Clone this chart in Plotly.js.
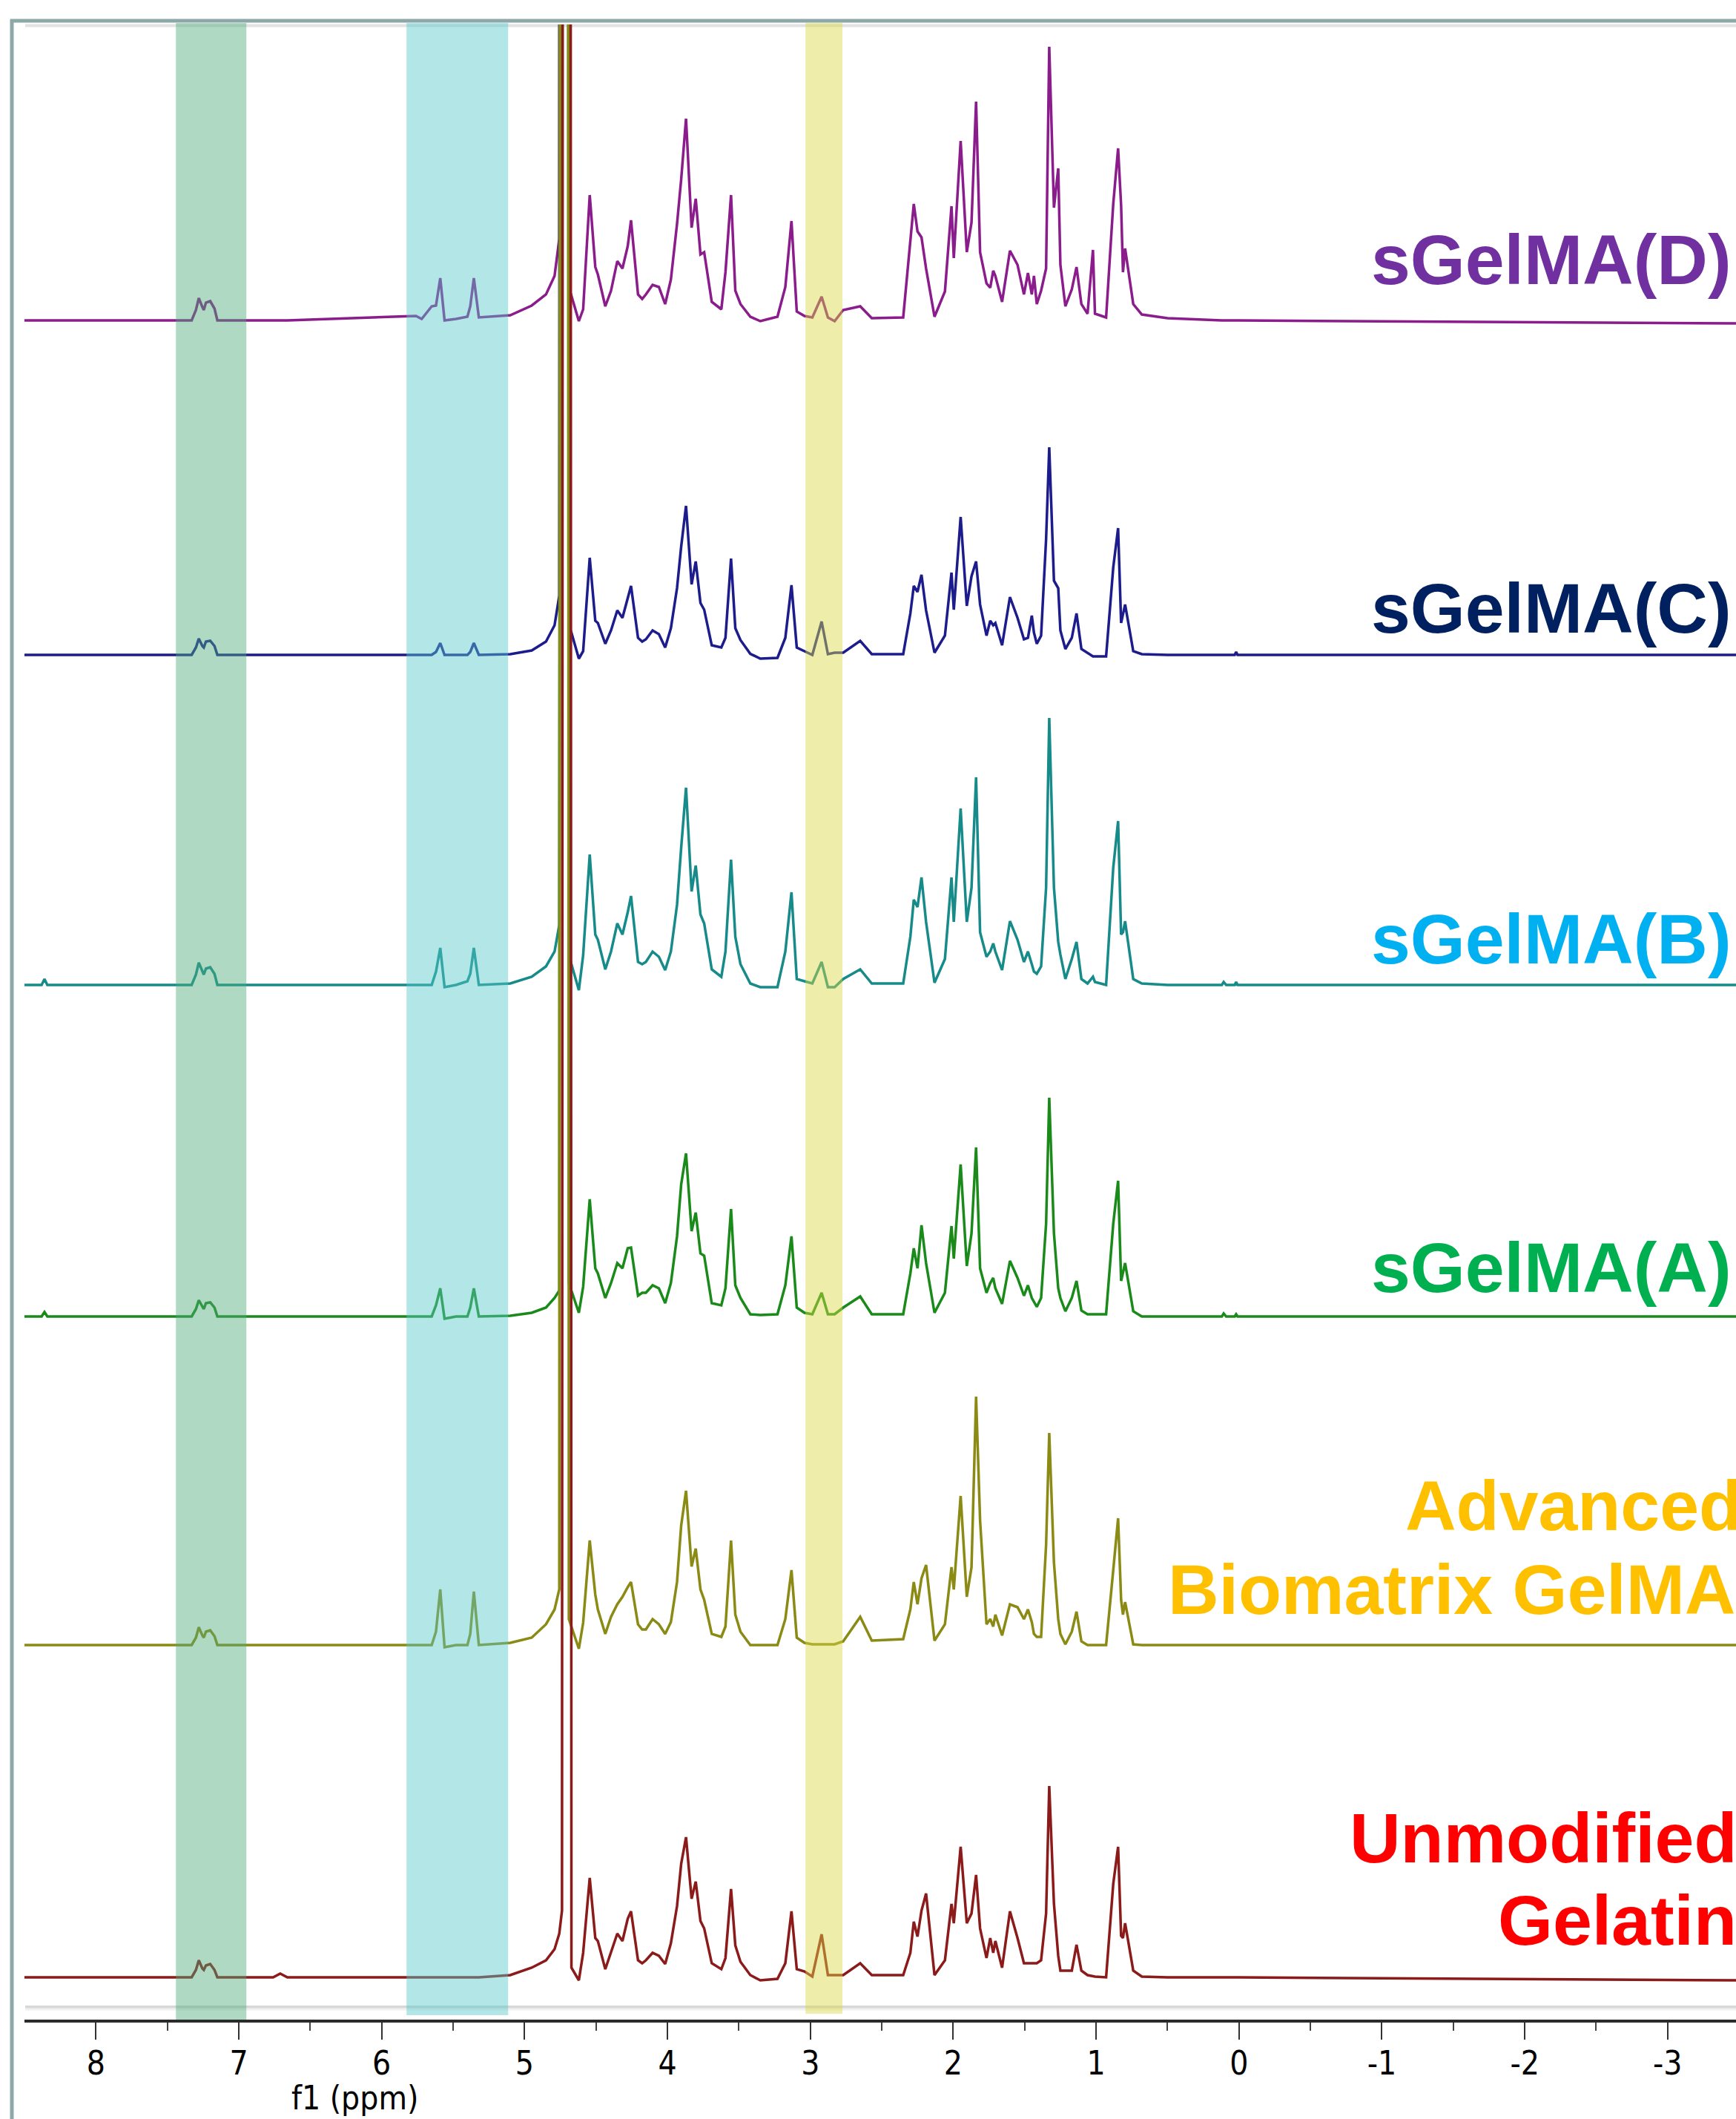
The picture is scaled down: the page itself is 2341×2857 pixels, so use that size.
<!DOCTYPE html>
<html><head><meta charset="utf-8">
<script src="https://cdn.plot.ly/plotly-3.0.1.min.js"></script>
<style>html,body{margin:0;padding:0;background:#fff;overflow:hidden}</style>
</head><body><div id="chart" style="width:2341px;height:2857px"></div>
<script>
// ---- data: chemical shift grid (ppm) shared by all six 1H NMR spectra ----
const ppm = [8.50, 8.38, 8.36, 8.34,
  7.33, 7.30, 7.28, 7.255, 7.245, 7.23, 7.20, 7.17, 7.15,
  6.76, 6.71, 6.66,
  5.76, 5.72, 5.65, 5.62, 5.59, 5.56, 5.48, 5.40, 5.38, 5.355, 5.32,
  5.10, 4.95, 4.85, 4.79, 4.757,
  4.738, 4.722, 4.708, 4.690, 4.672, 4.62, 4.59,
  4.544, 4.505, 4.487, 4.435, 4.395, 4.351, 4.315, 4.278, 4.255,
  4.206, 4.177, 4.151, 4.104, 4.060, 4.016, 3.976, 3.933, 3.904, 3.870,
  3.831, 3.802, 3.769, 3.743, 3.690, 3.623, 3.594, 3.555, 3.525, 3.489,
  3.420, 3.35, 3.23, 3.175, 3.132, 3.095, 3.041, 2.986, 2.921, 2.877,
  2.83, 2.77, 2.651, 2.57, 2.35,
  2.300, 2.276, 2.250, 2.222, 2.190,
  2.131, 2.058, 2.012, 1.996, 1.948, 1.905, 1.872, 1.840, 1.812, 1.767,
  1.741, 1.720, 1.705, 1.658, 1.603, 1.550, 1.505, 1.477, 1.450, 1.435,
  1.415, 1.385, 1.350, 1.328, 1.295, 1.265, 1.250, 1.215, 1.170, 1.137,
  1.103, 1.060, 1.022, 1.008, 0.930, 0.880, 0.846, 0.825, 0.812, 0.797,
  0.740, 0.680, 0.50,
  0.12, 0.107, 0.09, 0.03, 0.02, 0.01,
  -3.50];

// intensities (a.u.); 9000 = off-scale solvent (HDO) peak, clipped at the top
const sGelMA_D = [0,0,0,0,
  0,14,30,18,14,24,26,16,0,
  0,0,0,
  6,2,19,20,57,0,2,5,19,57,4,
  7,20,35,60,110,
  9000,9000,9000,45,33,-1,15,
  169,72,62,19,40,80,70,100,135,
  35,29,35,48,45,22,55,130,190,272,
  125,164,89,92,25,15,65,169,40,22,
  5,-1,5,45,134,12,6,4,32,4,
  -1,14,19,3,4,
  109,157,120,112,70,
  5,39,154,84,242,92,132,295,92,50,
  44,67,60,25,94,75,35,64,35,60,
  22,40,70,369,152,205,75,19,42,72,
  22,9,95,9,4,157,232,155,65,97,
  22,8,3,
  0,0,0,0,0,0,
  -4];
const sGelMA_C = [0,0,0,0,
  0,10,22,12,10,18,19,12,0,
  0,0,0,
  0,0,0,4,16,0,0,0,4,16,0,
  1,6,18,40,80,
  9000,9000,9000,40,30,-5,5,
  131,46,43,15,33,60,50,78,93,
  23,18,21,33,28,10,36,90,146,201,
  95,126,70,61,13,10,23,130,36,20,
  1.5,-5,-4,23,94,10,5,0,45,1,
  3,3,19,1,1,
  56,93,85,108,60,
  3,26,111,61,186,66,106,126,68,26,
  46,40,43,13,78,50,21,23,53,30,
  15,26,156,280,100,90,33,8,23,56,
  8,3,-2,-2,-2,118,171,43,55,68,
  5,1,0,
  0,0,0,0,4,0,
  0];
const sGelMA_B = [0,0,8,0,
  0,14,30,18,14,22,24,15,0,
  0,0,0,
  0,0,0,18,50,-3,0,5,15,50,0,
  2,11,25,45,81,
  9000,9000,9000,40,28,-7,40,
  176,68,61,21,45,83,68,98,120,
  31,28,31,45,38,20,45,108,185,266,
  126,161,95,83,21,11,45,169,65,28,
  2,-3,-3,45,125,8,5,2,31,-3,
  -3,8,21,2,2,
  65,115,105,145,85,
  3,35,145,85,238,85,131,280,71,38,
  45,56,45,20,86,61,31,45,28,18,
  15,25,131,360,131,58,41,8,35,58,
  8,2,11,4,0,158,221,68,71,86,
  8,2,0,
  0,4,0,0,4,0,
  0];
const sGelMA_A = [0,0,6,0,
  0,10,22,12,10,18,19,12,0,
  0,0,0,
  0,0,0,15,38,-3,0,0,12,38,0,
  1,5,12,25,35,
  9000,9000,9000,45,35,5,40,
  158,65,58,25,45,72,65,92,93,
  28,32,32,42,38,18,45,108,178,220,
  115,140,85,82,18,15,38,145,42,25,
  3,2,3,42,108,12,5,3,32,3,
  3,12,27,3,3,
  58,92,65,123,72,
  5,32,122,78,205,68,112,228,65,32,
  45,52,38,17,75,52,28,42,25,20,
  13,25,125,295,112,38,25,7,25,48,
  8,3,3,3,3,125,183,48,58,72,
  7,0,0,
  0,4,0,0,3,0,
  0];
const advancedBiomatrix = [0,0,0,0,
  0,10,24,13,10,18,20,12,0,
  0,0,0,
  0,0,0,18,75,-3,0,0,15,72,0,
  3,10,28,48,75,
  9000,9000,9000,35,25,-5,30,
  141,68,48,15,38,55,65,78,85,
  28,21,21,35,28,15,31,85,161,208,
  106,130,75,61,15,11,25,141,41,18,
  0,0,0,35,101,10,3,1,1,1,
  1,5,38,6,8,
  48,85,55,90,108,
  6,28,105,75,201,65,105,335,168,28,
  35,25,41,13,55,51,35,48,31,15,
  11,11,135,286,111,35,15,1,18,45,
  5,0,0,0,0,101,171,61,41,58,
  1,0,0,
  0,0,0,0,0,0,
  0];
const unmodifiedGelatin = [0,0,0,0,
  0,10,23,12,10,16,18,10,0,
  0,5,0,
  0,0,0,0,0,0,0,0,0,0,0,
  3,13,23,38,59,
  90,9000,9000,9000,13,-4,33,
  134,53,49,11,33,59,49,79,89,
  23,19,23,33,29,18,46,96,153,189,
  106,129,76,66,19,11,26,119,43,21,
  3,-4,-2,19,89,11,8,1,58,3,
  3,3,19,3,3,
  33,75,55,90,113,
  3,23,99,73,176,73,86,138,66,26,
  53,33,49,13,89,53,19,19,19,19,
  19,23,86,258,99,29,9,9,9,44,
  9,3,1,1,0,126,176,56,53,73,
  9,1,0,
  0,0,0,0,0,0,
  -4];

const tickVals = [8,7,6,5,4,3,2,1,0,-1,-2,-3];
const tickText = ['8','7','6','5','4','3','2','1','0','-1','-2','-3'];
const minorTickVals = [7.5,6.5,5.5,4.5,3.5,2.5,1.5,0.5,-0.5,-1.5,-2.5];

// highlighted ppm windows
const bandAromatic = [7.44, 6.947];
const bandMethacryl = [5.826, 5.115];
const bandMethyl = [3.034, 2.775];

// ---- presentation ----
const W = 2341, H = 2857, L = 33, T = 33, PW = 2308, PH = 2690;
const px2x = p => (p - L) / PW;
const py2y = p => (T + PH - p) / PH;

const series = [
  {name:'sGelMA(D)', y: sGelMA_D, off: 2291, color:'#8b1c8b'},
  {name:'sGelMA(C)', y: sGelMA_C, off: 1840, color:'#1c1c8c'},
  {name:'sGelMA(B)', y: sGelMA_B, off: 1395, color:'#178a8a'},
  {name:'sGelMA(A)', y: sGelMA_A, off: 948, color:'#1a8a1a'},
  {name:'Advanced Biomatrix GelMA', y: advancedBiomatrix, off: 505, color:'#8a8a14'},
  {name:'Unmodified Gelatin', y: unmodifiedGelatin, off: 57, color:'#8b1a1a'}
];
series.forEach(s => { if (s.y.length !== ppm.length) throw new Error(s.name + ' length ' + s.y.length + ' vs ' + ppm.length); });

const traces = series.map(s => ({
  type:'scatter', mode:'lines', name:s.name, x: ppm,
  y: s.y.map(v => v + s.off),
  line:{color:s.color, width:3.5}, hoverinfo:'skip'
}));

const labelFont = c => ({family:'Liberation Sans, Arial, sans-serif', size:95, color:c});
const lab = (text, pxR, pyC, color, anchor) => ({
  text:'<b>'+text+'</b>', xref:'paper', yref:'paper', x:px2x(pxR), y:py2y(pyC),
  xanchor: anchor || 'right', yanchor:'middle', showarrow:false, font:labelFont(color)
});

const annotations = [
  lab('sGelMA(D)', 2337, 350, '#7030A0'),
  lab('sGelMA(C)', 2337, 820, '#002060'),
  lab('sGelMA(B)', 2337, 1266, '#00B0F0'),
  lab('sGelMA(A)', 2337, 1709, '#00B050'),
  lab('Advanced', 1893, 2030, '#FFC000', 'left'),
  lab('Biomatrix GelMA', 1573, 2143, '#FFC000', 'left'),
  lab('Unmodified', 2344, 2478, '#FF0000'),
  lab('Gelatin', 2344, 2589, '#FF0000'),
  {text:'f1 (ppm)', xref:'paper', yref:'paper', x:px2x(478), y:py2y(2828), xanchor:'center', yanchor:'middle',
   showarrow:false, font:{family:'DejaVu Sans Condensed, Liberation Sans Narrow, sans-serif', size:44, color:'#000'}}
];

const band = (r, color, yBottomPx) => ({type:'rect', layer:'above', xref:'x', yref:'paper',
  x0:r[0], x1:r[1], y0:py2y(yBottomPx), y1:py2y(31), fillcolor:color, opacity:0.45, line:{width:0}});

const shapes = [
  // window frame
  {type:'line', xref:'paper', yref:'paper', x0:px2x(16), x1:px2x(16), y0:py2y(2870), y1:py2y(26), line:{color:'#8ea8a9', width:5}, layer:'above'},
  {type:'line', xref:'paper', yref:'paper', x0:px2x(14), x1:px2x(2350), y0:py2y(28), y1:py2y(28), line:{color:'#8ea8a9', width:5}, layer:'above'},
  // light grey plot frame lines
  {type:'line', xref:'paper', yref:'paper', x0:px2x(34), x1:px2x(2350), y0:py2y(34.5), y1:py2y(34.5), line:{color:'#e2e2e2', width:4}, layer:'below'},
  {type:'line', xref:'paper', yref:'paper', x0:px2x(34), x1:px2x(2350), y0:py2y(2706), y1:py2y(2706), line:{color:'#d8d8d8', width:4}, layer:'below'},
  {type:'line', xref:'paper', yref:'paper', x0:px2x(34), x1:px2x(2350), y0:py2y(2709), y1:py2y(2709), line:{color:'#f0f0f0', width:3}, layer:'below'},
  band(bandAromatic, 'rgb(78,171,122)', 2723),
  band(bandMethacryl, 'rgb(87,200,200)', 2717),
  band(bandMethyl, 'rgb(218,218,67)', 2715)
];

const layout = {
  width:W, height:H, showlegend:false, hovermode:false,
  paper_bgcolor:'#ffffff', plot_bgcolor:'rgba(0,0,0,0)',
  margin:{l:L, r:W-L-PW, t:T, b:H-T-PH, pad:0},
  xaxis:{range:[8.5, 8.5 - PW/192.68], showgrid:false, zeroline:false,
    showline:true, linecolor:'#2b2b2b', linewidth:4,
    tickmode:'array', tickvals:tickVals, ticktext:tickText,
    ticks:'outside', ticklen:23, tickwidth:2, tickcolor:'#333', ticklabelstandoff:-6,
    tickfont:{family:'DejaVu Sans Condensed, Liberation Sans Narrow, sans-serif', size:44, color:'#000'},
    minor:{tickmode:'array', tickvals:minorTickVals, ticks:'outside', ticklen:11, tickwidth:2, tickcolor:'#444', showgrid:false},
    fixedrange:true},
  yaxis:{range:[0, PH], visible:false, fixedrange:true},
  shapes:shapes, annotations:annotations
};

Plotly.newPlot('chart', traces, layout, {staticPlot:true, displayModeBar:false});
</script>
</body></html>
